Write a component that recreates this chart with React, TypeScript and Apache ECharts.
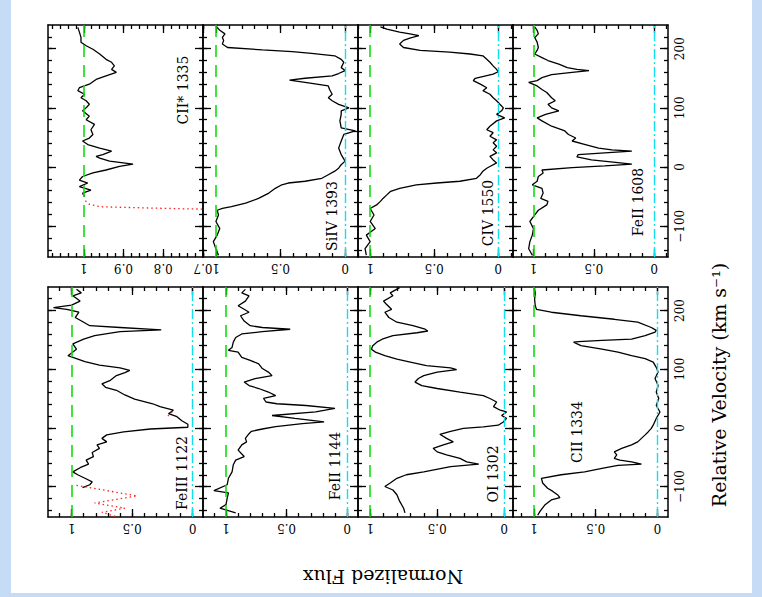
import React, { useEffect, useRef } from "react";
import * as echarts from "echarts";

// ---------- data (velocity km/s, normalized flux) ----------
const VEL_MIN = -152;
const VEL_MAX = 240;
const velMajorTicks = [-100, 0, 100, 200];
const velMinorTicks = [-140, -120, -100, -80, -60, -40, -20, 0, 20, 40, 60, 80, 100, 120, 140, 160, 180, 200, 220];

const panelNames = ["CII* 1335", "SiIV 1393", "CIV 1550", "FeII 1608", "FeIII 1122", "FeII 1144", "OI 1302", "CII 1334"];
const fluxRanges = [[0.7, 1.09], [-0.1, 1.1], [-0.115, 1.095], [-0.115, 1.17], [-0.085, 1.195], [-0.09, 1.19], [-0.065, 1.09], [-0.085, 1.17]];
const fluxLabelsStd = [0, 0.5, 1];
const fluxMinorStd = [-0.1, 0, 0.1, 0.2, 0.3, 0.4, 0.5, 0.6, 0.7, 0.8, 0.9, 1, 1.1];
const fluxLabelsCIIs = [0.7, 0.8, 0.9, 1];
const fluxMinorCIIs = [0.7, 0.72, 0.74, 0.76, 0.78, 0.8, 0.82, 0.84, 0.86, 0.88, 0.9, 0.92, 0.94, 0.96, 0.98, 1, 1.02, 1.04, 1.06, 1.08];

const cIIs1335 = [[236,1.015],[228,1.011],[219,1.007],[211,1.007],[205,0.994],[199,0.977],[191,0.96],[182,0.944],[177,0.93],[171,0.923],[165,0.93],[160,0.918],[154,0.944],[148,0.969],[140,0.986],[134,1.011],[129,1.015],[123,0.998],[117,1.007],[112,0.994],[106,0.986],[100,0.994],[95,1.003],[86,0.986],[80,0.994],[72,0.973],[63,0.982],[55,0.977],[49,0.986],[44,1.003],[38,0.99],[32,0.96],[27,0.93],[21,0.952],[18,0.969],[15,0.96],[10,0.935],[5,0.876],[1,0.91],[-5,0.944],[-10,0.977],[-16,1.003],[-22,1.011],[-27,0.99],[-33,1.011],[-39,0.982],[-44,1.003],[-50,0.998]];
const cIIs1335Model = [[-57,0.996],[-63,0.986],[-67,0.96],[-69,0.85],[-70.5,0.75],[-71,0.7],[-71.5,0.66]];
const siIV1393 = [[236,0.99],[231,0.97],[225,0.93],[219,0.95],[214,0.94],[208,0.95],[202,0.91],[198,0.64],[195,0.41],[192,0.26],[188,0.08],[182,0.03],[177,0.01],[168,0.03],[163,0.0],[158,0.05],[154,0.1],[150,0.31],[147,0.43],[143,0.31],[137,0.13],[131,0.12],[123,0.1],[117,0.13],[112,0.1],[106,0.05],[100,-0.03],[95,0.03],[89,0.03],[78,0.04],[66,0.03],[61,-0.08],[55,0.01],[44,0.03],[32,0.05],[21,0.03],[10,0.0],[4,0.03],[-2,0.05],[-7,0.08],[-13,0.13],[-19,0.18],[-24,0.31],[-27,0.44],[-30,0.49],[-36,0.54],[-44,0.59],[-53,0.67],[-61,0.77],[-67,0.88],[-70,0.95],[-73,0.99],[-81,0.98],[-92,1.0],[-104,0.97],[-115,0.99],[-126,1.02],[-138,1.0],[-149,0.98]];
const cIV1550 = [[237,0.92],[233,0.87],[228,0.77],[225,0.69],[222,0.62],[218,0.69],[214,0.74],[208,0.77],[202,0.74],[197,0.61],[194,0.38],[191,0.22],[188,0.12],[182,0.09],[177,0.065],[171,0.04],[165,0.013],[161,0.0],[157,0.04],[150,0.18],[146,0.195],[140,0.14],[134,0.09],[129,0.12],[123,0.065],[117,0.04],[112,0.013],[106,-0.013],[100,-0.04],[95,-0.026],[89,0.013],[83,-0.05],[78,0.013],[69,0.065],[63,0.09],[58,0.04],[52,0.065],[46,0.013],[41,0.04],[35,0.013],[29,0.04],[24,0.013],[18,0.065],[12,0.04],[7,0.013],[1,0.065],[-2,0.09],[-7,0.12],[-13,0.14],[-19,0.17],[-24,0.3],[-27,0.48],[-30,0.64],[-36,0.77],[-41,0.84],[-47,0.87],[-53,0.9],[-58,0.92],[-64,0.95],[-70,1.0],[-81,0.97],[-92,1.0],[-104,0.96],[-115,1.03],[-126,1.0],[-138,1.04],[-149,1.03]];
const feII1608 = [[237,0.99],[231,0.97],[225,0.96],[219,0.99],[211,0.97],[202,0.96],[197,0.97],[191,0.99],[185,0.93],[180,0.88],[174,0.79],[168,0.72],[165,0.64],[163,0.54],[160,0.68],[156,0.85],[151,0.93],[146,0.97],[143,1.04],[137,0.97],[131,0.93],[126,0.89],[117,0.85],[112,0.82],[106,0.88],[100,0.85],[95,0.79],[89,0.9],[83,0.97],[78,0.93],[69,0.85],[61,0.74],[55,0.71],[49,0.65],[44,0.68],[38,0.57],[32,0.46],[29,0.35],[27,0.185],[24,0.41],[21,0.63],[17,0.64],[12,0.52],[8,0.32],[5,0.185],[2,0.41],[-1,0.68],[-5,0.93],[-10,0.92],[-16,0.96],[-24,0.97],[-30,1.01],[-36,0.93],[-44,0.92],[-53,0.94],[-58,0.88],[-64,0.89],[-73,0.96],[-81,0.99],[-92,1.03],[-104,1.0],[-115,1.01],[-126,1.03],[-138,1.04],[-149,1.01]];
const feIII1122 = [[236,0.96],[230,0.92],[225,0.99],[216,0.93],[209,1.0],[205,1.15],[202,1.04],[197,0.94],[188,0.97],[180,0.9],[174,0.85],[171,0.6],[167,0.26],[164,0.6],[157,0.81],[151,0.9],[143,0.99],[134,0.96],[123,1.03],[118,0.96],[113,0.89],[107,0.77],[102,0.6],[98,0.52],[94,0.56],[89,0.63],[81,0.68],[75,0.75],[69,0.72],[64,0.63],[56,0.56],[49,0.48],[41,0.33],[36,0.27],[30,0.16],[24,0.2],[19,0.13],[12,0.09],[6,0.04],[1,0.04],[-2,0.35],[-7,0.57],[-12,0.71],[-18,0.75],[-24,0.71],[-29,0.79],[-35,0.77],[-42,0.83],[-49,0.82],[-55,0.88],[-62,0.86],[-68,0.93],[-75,0.99],[-80,0.95],[-86,0.89],[-92,0.83],[-97,0.85],[-102,0.91]];
const feIII1122ModelA = [[27,0.17],[19,0.21]];
const feIII1122ModelB = [[-98,0.96],[-116,0.46],[-128,0.81],[-137,0.56],[-144,0.75],[-152,0.62]];
const feII1144 = [[236,0.84],[230,0.87],[225,0.81],[216,0.84],[208,0.9],[202,0.85],[197,0.81],[191,0.88],[182,0.85],[174,0.8],[171,0.7],[168,0.47],[164,0.7],[160,0.87],[154,0.92],[146,0.94],[137,0.95],[132,0.98],[129,0.9],[120,0.87],[115,0.8],[109,0.73],[101,0.7],[95,0.65],[89,0.62],[84,0.76],[78,0.85],[72,0.81],[67,0.73],[61,0.65],[55,0.59],[50,0.69],[44,0.67],[41,0.58],[38,0.34],[33,0.1],[27,0.26],[21,0.62],[16,0.43],[10,0.19],[7,0.37],[2,0.59],[-2,0.7],[-6,0.79],[-10,0.81],[-18,0.84],[-24,0.83],[-29,0.87],[-38,0.9],[-49,0.85],[-55,0.92],[-63,0.94],[-75,0.95],[-86,0.98],[-97,0.99],[-107,1.1],[-111,0.98],[-120,0.99],[-131,1.0],[-137,1.05],[-145,0.92]];
const oI1302 = [[239,0.78],[230,0.85],[225,0.83],[216,0.9],[211,0.88],[202,0.84],[197,0.89],[188,0.86],[180,0.8],[174,0.68],[168,0.59],[165,0.57],[162,0.65],[157,0.83],[151,0.91],[146,0.95],[140,0.98],[134,0.99],[129,0.96],[123,0.89],[117,0.8],[112,0.7],[106,0.58],[102,0.4],[99,0.355],[95,0.5],[89,0.6],[84,0.64],[78,0.665],[72,0.615],[67,0.5],[61,0.33],[55,0.156],[50,0.107],[44,0.057],[36,0.08],[30,0.03],[27,-0.017],[21,0.02],[16,-0.017],[10,0.007],[4.5,0.045],[1.7,0.156],[-1,0.305],[-6,0.4],[-11,0.48],[-18,0.43],[-24,0.38],[-29,0.454],[-35,0.53],[-41,0.5],[-46,0.43],[-52,0.33],[-58,0.28],[-62,0.19],[-66,0.4],[-75,0.6],[-80,0.73],[-86,0.8],[-94,0.85],[-100,0.89],[-106,0.83],[-114,0.8],[-125,0.78],[-137,0.75],[-145,0.74]];
const cII1334 = [[239,1.0],[230,0.99],[219,0.995],[208,0.99],[202,0.98],[197,0.86],[191,0.62],[185,0.35],[180,0.16],[171,0.05],[166,0.01],[163,0.02],[157,0.1],[151,0.21],[149,0.45],[147,0.64],[146,0.68],[140,0.62],[134,0.45],[129,0.32],[123,0.21],[118,0.1],[112,0.035],[103,0.01],[95,-0.005],[84,0.02],[72,-0.005],[61,0.01],[50,-0.01],[38,0.01],[27,-0.02],[16,0.01],[4.5,0.035],[-1,0.05],[-7,0.076],[-12,0.1],[-18,0.13],[-24,0.16],[-29,0.21],[-35,0.29],[-41,0.35],[-46,0.33],[-52,0.35],[-55,0.305],[-58,0.21],[-62,0.13],[-64,0.32],[-69,0.45],[-75,0.59],[-80,0.78],[-86,0.94],[-94,0.93],[-103,0.89],[-108,0.85],[-114,0.81],[-119,0.79],[-123,0.86],[-131,0.91],[-142,0.95],[-149,0.97]];

const spectra = [cIIs1335, siIV1393, cIV1550, feII1608, feIII1122, feII1144, oI1302, cII1334];
const models: number[][][][] = [[cIIs1335Model], [], [], [], [feIII1122ModelA, feIII1122ModelB], [], [], []];

// ---------- layout ----------
const COL_LEFT = [48, 203, 358, 513];
const COL_W = 155;
const ROW_TOP = [25, 287];
const ROW_H = [232, 230];
const LABEL_POS = [[183, 90], [332, 216], [488, 213], [638, 202], [182, 473], [335, 466], [493, 474], [577, 432]];
const FONT = '"DejaVu Serif", "Liberation Serif", serif';

function buildOption() {
  const grid: any[] = [];
  const xAxis: any[] = [];
  const yAxis: any[] = [];
  const series: any[] = [];
  const frame = { show: true, onZero: false, lineStyle: { color: "#000", width: 1.5 } };
  const tickStyle = { color: "#000", width: 1.3 };

  panelNames.forEach((name, i) => {
    const col = i % 4;
    const row = i < 4 ? 0 : 1;
    grid.push({ left: COL_LEFT[col], top: ROW_TOP[row], width: COL_W, height: ROW_H[row], containLabel: false });
    const [fmin, fmax] = fluxRanges[i];
    const isCIIs = i === 0;
    const majors = isCIIs ? fluxLabelsCIIs : fluxLabelsStd;
    const minors = (isCIIs ? fluxMinorCIIs : fluxMinorStd).filter((v) => v >= fmin && v <= fmax);

    const xb = {
      type: "value", gridIndex: i, min: fmin, max: fmax, inverse: true,
      splitLine: { show: false }, axisLine: frame,
    };
    xAxis.push({
      ...xb, position: "bottom",
      axisTick: { show: true, inside: true, length: 8, customValues: majors, lineStyle: tickStyle },
      axisLabel: {
        show: true, customValues: majors, rotate: 180, margin: 5, color: "#000", fontSize: 12, fontFamily: FONT,
        formatter: (v: number) => String(v),
      },
    });
    xAxis.push({
      ...xb, position: "bottom", axisLine: { show: false, onZero: false },
      axisTick: { show: true, inside: true, length: 4, customValues: minors, lineStyle: tickStyle },
      axisLabel: { show: false },
    });
    xAxis.push({
      ...xb, position: "top",
      axisTick: { show: true, inside: true, length: 8, customValues: majors, lineStyle: tickStyle },
      axisLabel: { show: false },
    });
    xAxis.push({
      ...xb, position: "top", axisLine: { show: false, onZero: false },
      axisTick: { show: true, inside: true, length: 4, customValues: minors, lineStyle: tickStyle },
      axisLabel: { show: false },
    });

    const yb = { type: "value", gridIndex: i, min: VEL_MIN, max: VEL_MAX, splitLine: { show: false }, axisLine: frame };
    yAxis.push({
      ...yb, position: "left",
      axisTick: { show: true, inside: true, length: 8, customValues: velMajorTicks, lineStyle: tickStyle },
      axisLabel: { show: false },
    });
    yAxis.push({
      ...yb, position: "left", axisLine: { show: false, onZero: false },
      axisTick: { show: true, inside: true, length: 4, customValues: velMinorTicks, lineStyle: tickStyle },
      axisLabel: { show: false },
    });
    yAxis.push({
      ...yb, position: "right",
      axisTick: { show: true, inside: true, length: 8, customValues: velMajorTicks, lineStyle: tickStyle },
      axisLabel: col === 3 ? {
        show: true, customValues: velMajorTicks, rotate: 90, margin: 6, color: "#000", fontSize: 12, fontFamily: FONT,
        formatter: (v: number) => (v < 0 ? "\u2212" + Math.abs(v) : String(v)),
      } : { show: false },
    });
    yAxis.push({
      ...yb, position: "right", axisLine: { show: false, onZero: false },
      axisTick: { show: true, inside: true, length: 4, customValues: velMinorTicks, lineStyle: tickStyle },
      axisLabel: { show: false },
    });

    const refLines: any[] = [
      { xAxis: 1, lineStyle: { color: "#11dd11", width: 1.6, type: [12, 8] } },
    ];
    if (!isCIIs) refLines.push({ xAxis: 0, lineStyle: { color: "#10e0f0", width: 1.4, type: [10, 3, 2, 3] } });

    series.push({
      type: "line", xAxisIndex: i * 4, yAxisIndex: i * 4,
      data: spectra[i].map(([v, f]) => [f, v]),
      symbol: "none", clip: true, silent: true,
      lineStyle: { color: "#000", width: 1.3 },
      markLine: { silent: true, symbol: ["none", "none"], label: { show: false }, data: refLines },
      z: 3,
    });
    models[i].forEach((m) => {
      series.push({
        type: "line", xAxisIndex: i * 4, yAxisIndex: i * 4,
        data: m.map(([v, f]) => [f, v]),
        symbol: "none", clip: true, silent: true,
        lineStyle: { color: "#ff2020", width: 1.3, type: [1.5, 3] },
        z: 4,
      });
    });
  });

  const graphic: any[] = panelNames.map((name, i) => ({
    type: "text", x: LABEL_POS[i][0], y: LABEL_POS[i][1], rotation: Math.PI / 2,
    style: { text: name, fontSize: 14, fontFamily: FONT, fill: "#000", align: "center", verticalAlign: "middle" },
  }));
  graphic.push({
    type: "text", x: 383, y: 577, rotation: Math.PI,
    style: { text: "Normalized Flux", fontSize: 19, fontFamily: FONT, fill: "#000", align: "center", verticalAlign: "middle" },
  });
  graphic.push({
    type: "text", x: 719, y: 385, rotation: Math.PI / 2,
    style: { text: "Relative Velocity (km s\u207B\u00B9)", fontSize: 19, fontFamily: FONT, fill: "#000", align: "center", verticalAlign: "middle" },
  });

  return { animation: false, grid, xAxis, yAxis, series, graphic };
}

export default function App() {
  const ref = useRef<HTMLDivElement>(null);
  useEffect(() => {
    if (!ref.current) return;
    const chart = echarts.init(ref.current, undefined, { renderer: "svg" });
    chart.setOption(buildOption() as any);
    return () => chart.dispose();
  }, []);
  return (
    <div style={{ position: "absolute", left: 0, top: 0, width: 762, height: 597, background: "#c6dcf6", overflow: "hidden" }}>
      <div style={{ position: "absolute", left: 11, top: 0, width: 741, height: 593, background: "#ffffff" }} />
      <div ref={ref} style={{ position: "absolute", left: 0, top: 0, width: 762, height: 597 }} />
    </div>
  );
}
